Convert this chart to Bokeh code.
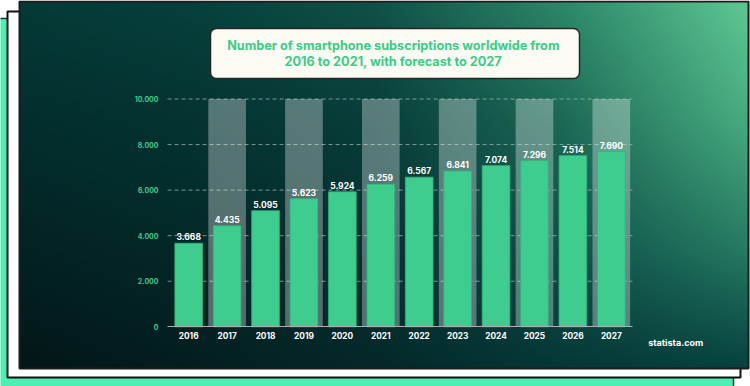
import numpy as np
from bokeh.plotting import figure
from bokeh.models import (Range1d, LinearAxis, FixedTicker, ColumnDataSource,
                          LabelSet, Label, BoxAnnotation)
from bokeh.core.properties import value
from bokeh.embed import file_html
from bokeh.resources import INLINE

# ---------------- data ----------------
years = [2016, 2017, 2018, 2019, 2020, 2021, 2022, 2023, 2024, 2025, 2026, 2027]
year_labels = ["2016", "2017", "2018", "2019", "2020", "2021", "2022", "2023",
               "2024", "2025", "2026", "2027"]
values = [3668, 4435, 5095, 5623, 5924, 6259, 6567, 6841, 7074, 7296, 7514, 7690]
value_labels = ["3.668", "4.435", "5.095", "5.623", "5.924", "6.259", "6.567",
                "6.841", "7.074", "7.296", "7.514", "7.690"]
y_ticks = [0, 2000, 4000, 6000, 8000, 10000]
y_tick_labels = ["0", "2.000", "4.000", "6.000", "8.000", "10.000"]
shaded_years = [2017, 2019, 2021, 2023, 2025, 2027]
title_lines = ["Number of smartphone subscriptions worldwide from",
               "2016 to 2021, with forecast to 2027"]
source_text = "statista.com"

# ---------------- layout (screen pixel geometry) ----------------
W, H = 750, 386


def up(sy):
    return H - sy


CAT_PX = 38.42             # px per category
FIRST_CX = 188.2           # screen x of first category centre
ZERO_SY = 326.3            # screen y of value 0
TOP_SY = 98.5              # screen y of value 10000
PX_PER_VAL = (ZERO_SY - TOP_SY) / 10000.0

x_start = years[0] - FIRST_CX / CAT_PX
x_end = years[0] + (W - FIRST_CX) / CAT_PX
y_start = -(H - ZERO_SY) / PX_PER_VAL
y_end = ZERO_SY / PX_PER_VAL

plot_left = years[0] - 0.55
plot_right = years[-1] + 0.55

FONT = "Inter"
GREEN = "#3fcd8f"
LABEL_GREEN = "#3ecb88"

p = figure(width=W, height=H, x_range=Range1d(x_start, x_end),
           y_range=Range1d(y_start, y_end), x_axis_type=None, y_axis_type=None,
           toolbar_location=None, output_backend="svg", min_border=0,
           title=None, background_fill_color="white", border_fill_color="white",
           outline_line_color=None)
p.extra_x_ranges = {"px": Range1d(0, W)}
p.extra_y_ranges = {"py": Range1d(0, H)}

# ---------------- decorative frame ----------------
p.quad(left=[-5], right=[733], top=[up(18)], bottom=[up(395)],
       fill_color="#4eefb3", line_color="#1a3a30", line_width=1.5,
       x_range_name="px", y_range_name="py", level="image")
p.quad(left=[7], right=[740], top=[up(11)], bottom=[up(377)],
       fill_color="white", line_color="#111111", line_width=2,
       x_range_name="px", y_range_name="py", level="image")

# gradient panel (background style)
PL, PR, PT, PB = 19, 748, 1, 368
gx = np.array([19, 190, 375, 560, 748], dtype=float)
gy = np.array([1, 120, 250, 368], dtype=float)
gcol = np.array([
    [(4, 58, 55), (6, 64, 60), (16, 82, 72), (45, 135, 105), (95, 200, 148)],
    [(3, 46, 46), (4, 52, 50), (8, 62, 58), (28, 105, 86), (72, 172, 128)],
    [(3, 34, 35), (4, 40, 40), (5, 50, 50), (14, 80, 72), (38, 122, 98)],
    [(4, 22, 24), (4, 30, 31), (4, 40, 42), (5, 55, 55), (6, 66, 63)],
], dtype=float)
IW, IH = PR - PL, PB - PT
sx = PL + np.arange(IW) + 0.5
sy = PB - np.arange(IH) - 0.5          # row 0 = bottom


def weights(grid, pts):
    pts = np.clip(pts, grid[0], grid[-1])
    i = np.clip(np.searchsorted(grid, pts) - 1, 0, len(grid) - 2)
    t = (pts - grid[i]) / (grid[i + 1] - grid[i])
    return i, t


iy, ty = weights(gy, sy)
img = np.empty((IH, IW), dtype=np.uint32)
view = img.view(dtype=np.uint8).reshape((IH, IW, 4))
for ch in range(3):
    rows = np.array([np.interp(sx, gx, gcol[r, :, ch]) for r in range(len(gy))])
    chan = rows[iy] * (1 - ty)[:, None] + rows[iy + 1] * ty[:, None]
    view[:, :, ch] = np.clip(chan, 0, 255).astype(np.uint8)
view[:, :, 3] = 255
p.image_rgba(image=[img], x=PL, y=up(PB), dw=IW, dh=IH,
             x_range_name="px", y_range_name="py", level="image")

p.quad(left=[PL], right=[PR], top=[up(PT)], bottom=[up(PB)],
       fill_color=None, line_color="#1c1c1c", line_width=2,
       x_range_name="px", y_range_name="py", level="underlay")

# ---------------- chart ----------------
grid_vals = y_ticks[1:]
p.segment(x0=[plot_left] * len(grid_vals), x1=[plot_right] * len(grid_vals),
          y0=grid_vals, y1=grid_vals, line_color="#9aaeab", line_alpha=0.8,
          line_width=1, line_dash="4 3", level="underlay")

p.vbar(x=shaded_years, top=[y_ticks[-1]] * len(shaded_years), bottom=0,
       width=0.98, fill_color="white", fill_alpha=0.32, line_color=None)

src = ColumnDataSource(dict(x=years, top=values, label=value_labels))
p.vbar(x="x", top="top", bottom=0, width=0.72, source=src,
       fill_color=GREEN, line_color="#35b27b", line_width=0.8)

p.add_layout(LabelSet(x="x", y="top", text="label", source=src, y_offset=3,
                      text_align="center", text_baseline="bottom",
                      text_color="white", text_font=value(FONT),
                      text_font_size="8.5px", text_font_style="bold"))

yaxis = LinearAxis(ticker=FixedTicker(ticks=y_ticks),
                   major_label_overrides=dict(zip(y_ticks, y_tick_labels)),
                   fixed_location=plot_left, axis_line_color=None,
                   major_tick_line_color=None, minor_tick_line_color=None,
                   major_tick_out=0, major_tick_in=0,
                   minor_tick_out=0, minor_tick_in=0,
                   major_label_standoff=9, major_label_text_color=LABEL_GREEN,
                   major_label_text_font=FONT, major_label_text_font_size="7px",
                   major_label_text_font_style="bold")
p.add_layout(yaxis, "left")

xaxis = LinearAxis(ticker=FixedTicker(ticks=years),
                   major_label_overrides=dict(zip(years, year_labels)),
                   fixed_location=0, bounds=(plot_left, plot_right),
                   axis_line_color="#a5b3b0", axis_line_width=1,
                   major_tick_line_color=None, minor_tick_line_color=None,
                   major_tick_out=0, major_tick_in=0,
                   minor_tick_out=0, minor_tick_in=0,
                   major_label_standoff=5, major_label_text_color="white",
                   major_label_text_font=FONT, major_label_text_font_size="8.3px",
                   major_label_text_font_style="bold")
p.add_layout(xaxis, "below")

# ---------------- title box ----------------
p.add_layout(BoxAnnotation(left=210, right=579, top=up(28), bottom=up(78),
                           x_range_name="px", y_range_name="py",
                           fill_color="#fbfaf3", fill_alpha=1.0,
                           line_color="#262626", line_alpha=1.0, line_width=1.5,
                           border_radius=6))
for line, ly in zip(title_lines, [45, 61]):
    p.add_layout(Label(x=392.8, y=up(ly), x_range_name="px", y_range_name="py",
                       text=line, text_align="center", text_baseline="middle",
                       text_color=LABEL_GREEN, text_font=FONT,
                       text_font_size="12.7px", text_font_style="bold"))

p.add_layout(Label(x=647.7, y=up(341.7), x_range_name="px", y_range_name="py",
                   text=source_text, text_align="left", text_baseline="middle",
                   text_color="white", text_font=FONT, text_font_size="9px",
                   text_font_style="bold"))

open("out.html", "w").write(file_html(p, INLINE))
